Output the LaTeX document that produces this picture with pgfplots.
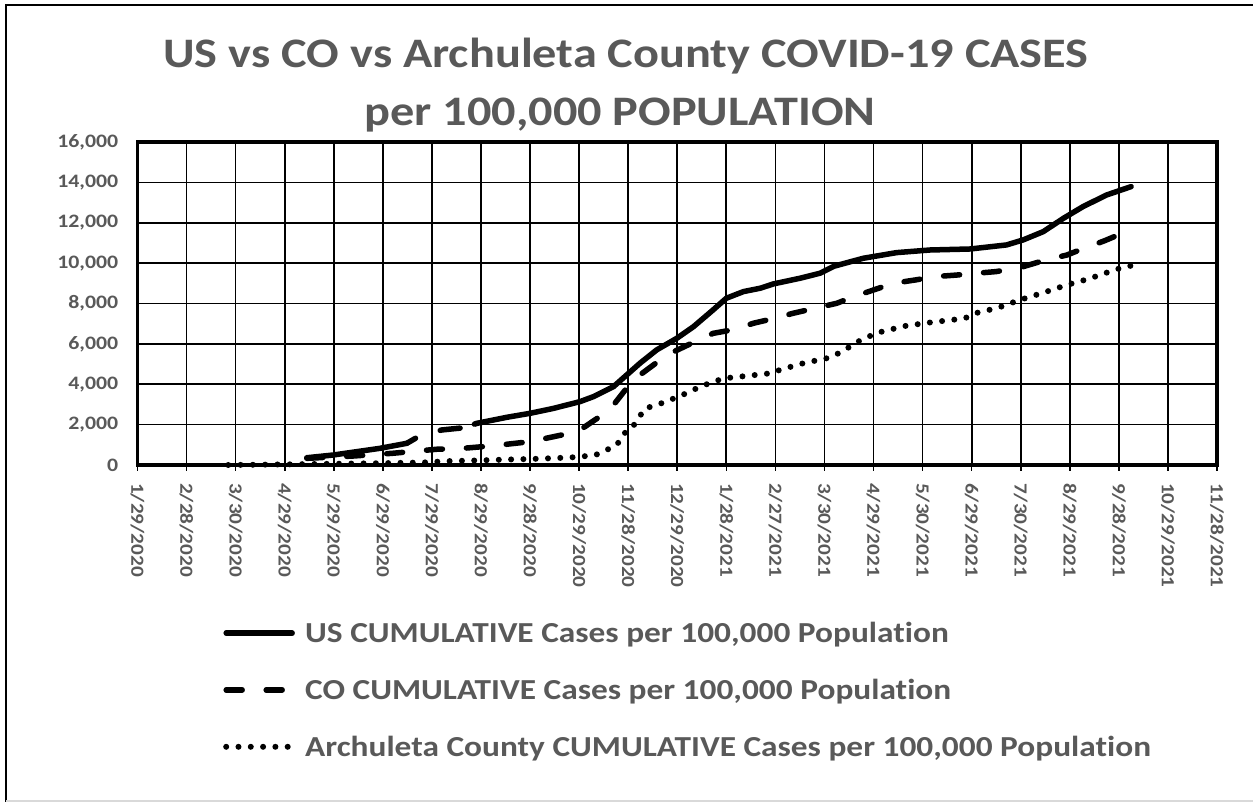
\documentclass[border=0pt]{standalone}
\usepackage{pgfplots}
\pgfplotsset{compat=1.18}
\usepackage{fontspec}
\setmainfont{Carlito}[FakeStretch=1.15, Ligatures={NoCommon}]
\definecolor{txtgray}{HTML}{595959}

\begin{document}
\begin{tikzpicture}[x=1pt,y=1pt]
\useasboundingbox (0,0) rectangle (1253,802);
\draw[black, line width=2pt] (6,0) -- (6,797) -- (1253,797);
\draw[black!15, line width=1.5pt] (6,1) -- (1253,1);
\node[anchor=base, text=txtgray, font=\bfseries\fontsize{42}{42}\selectfont, inner sep=0pt] at (626,734) {US vs CO vs Archuleta County COVID-19 CASES};
\node[anchor=base, text=txtgray, font=\bfseries\fontsize{42}{42}\selectfont, inner sep=0pt] at (620,676) {per 100,000 POPULATION};

\begin{axis}[
  at={(137.5pt,337pt)}, anchor=south west,
  scale only axis, width=1079.5pt, height=323pt,
  xmin=0, xmax=22, ymin=0, ymax=16000,
  xtick={0,1,...,22},
  xticklabels={1/29/2020,2/28/2020,3/30/2020,4/29/2020,5/29/2020,6/29/2020,7/29/2020,8/29/2020,9/28/2020,10/29/2020,11/28/2020,12/29/2020,1/28/2021,2/27/2021,3/30/2021,4/29/2021,5/30/2021,6/29/2021,7/30/2021,8/29/2021,9/28/2021,10/29/2021,11/28/2021},
  ytick={0,2000,...,16000},
  scaled y ticks=false,
  xtick pos=bottom, ytick pos=left,
  tick align=outside, major tick length=6pt,
  xtick style={black, line width=1.6pt},
  ytick style={draw=none},
  grid=major, major grid style={black, line width=1.7pt},
  axis line style={black, line width=3.8pt},
  /pgf/number format/1000 sep={,},
  /pgf/number format/assume math mode=true,
  yticklabel style={text=txtgray, font=\bfseries\fontsize{19}{19}\selectfont, inner sep=0pt, anchor=east},
  xticklabel style={text=txtgray, font=\bfseries\fontsize{18.5}{18.5}\selectfont, inner sep=0pt, rotate=-90, anchor=west},
  yticklabel shift=13pt,
  xticklabel shift=12pt,
  clip=false,
  legend style={at={(0.0792,-0.486)}, anchor=north west, draw=none, fill=none,
    font=\bfseries\fontsize{29}{29}\selectfont, text=txtgray,
    row sep=35pt, column sep=10pt, inner sep=0pt,
    nodes={inner sep=0pt}},
  legend cell align=left,
  legend image code/.code={\draw[#1] (0pt,0pt) -- (66pt,0pt);},
]
% US (solid), first part
\addplot[black, line width=5.5pt, line cap=round, line join=round] coordinates {
(3.45,360)(3.99,495)(4.94,825)(5.49,1075)};
\addlegendentry{US CUMULATIVE Cases per 100,000 Population}
% CO (dashed)
\addplot[black, line width=5.5pt, line cap=round, dash pattern=on 16pt off 24pt] coordinates {
(3.45,330)(4.4,445)(5.2,580)(6.1,780)(6.5,800)(7.2,940)(8.0,1155)(8.65,1490)(9.02,1735)
(9.38,2330)(9.7,2970)(9.97,3810)(10.24,4460)(10.65,5200)(10.92,5600)(11.36,6110)(11.73,6520)
(12.18,6720)(12.55,7020)(12.99,7270)(13.36,7515)(13.8,7760)(14.25,8010)(14.6,8340)(15.0,8670)
(15.4,9000)(15.85,9165)(16.25,9330)(16.7,9410)(17.1,9500)(17.5,9580)(18.05,9825)(18.5,10150)
(18.94,10400)(19.2,10650)(19.7,11100)(20.23,11640)};
\addlegendentry{CO CUMULATIVE Cases per 100,000 Population}
% Archuleta (dotted)
\addplot[black, line width=6pt, line cap=round, dash pattern=on 0pt off 12.3pt] coordinates {
(1.85,0)(2.5,15)(3.0,30)(3.5,45)(4.0,60)(4.5,75)(5.0,90)(5.5,110)(5.87,130)(6.3,190)(7.0,230)
(7.52,270)(8.05,300)(8.81,370)(9.32,480)(9.56,745)(9.77,990)(9.90,1535)(10.07,1815)(10.21,2310)
(10.34,2800)(10.58,2970)(10.82,3190)(11.02,3385)(11.26,3630)(11.46,3880)(11.94,4290)(12.41,4410)
(12.89,4540)(13.13,4740)(13.57,5040)(14.05,5290)(14.32,5565)(14.72,6160)(14.93,6390)(15.17,6605)
(15.64,6885)(16.12,7050)(16.59,7185)(16.86,7265)(17.07,7515)(17.54,7790)(17.98,8175)(18.46,8535)
(18.94,8920)(19.38,9215)(19.85,9610)(20.09,9795)(20.33,9910)};
\addlegendentry{Archuleta County CUMULATIVE Cases per 100,000 Population}
% US, broken stretch
\addplot[forget plot, black, line width=5.5pt, line cap=round, line join=round, dash pattern=on 10pt off 26pt on 20pt off 15pt] coordinates {
(5.49,1075)(5.72,1400)(6.2,1735)(6.67,1850)(6.91,2060)};
% US, rest
\addplot[forget plot, black, line width=5.5pt, line cap=round, line join=round] coordinates {
(6.91,2060)(7.52,2360)(8.0,2560)(8.47,2800)(9.02,3140)(9.29,3385)(9.70,3880)(9.97,4460)
(10.24,5040)(10.58,5700)(10.99,6275)(11.33,6850)(11.73,7680)(12.0,8260)(12.35,8590)(12.69,8755)
(12.96,8970)(13.5,9250)(13.91,9500)(14.2,9850)(14.79,10240)(15.47,10520)(16.15,10650)(16.97,10700)
(17.71,10900)(18.05,11150)(18.46,11560)(18.87,12220)(19.27,12800)(19.75,13375)(20.25,13790)};
\end{axis}
\end{tikzpicture}
\end{document}
